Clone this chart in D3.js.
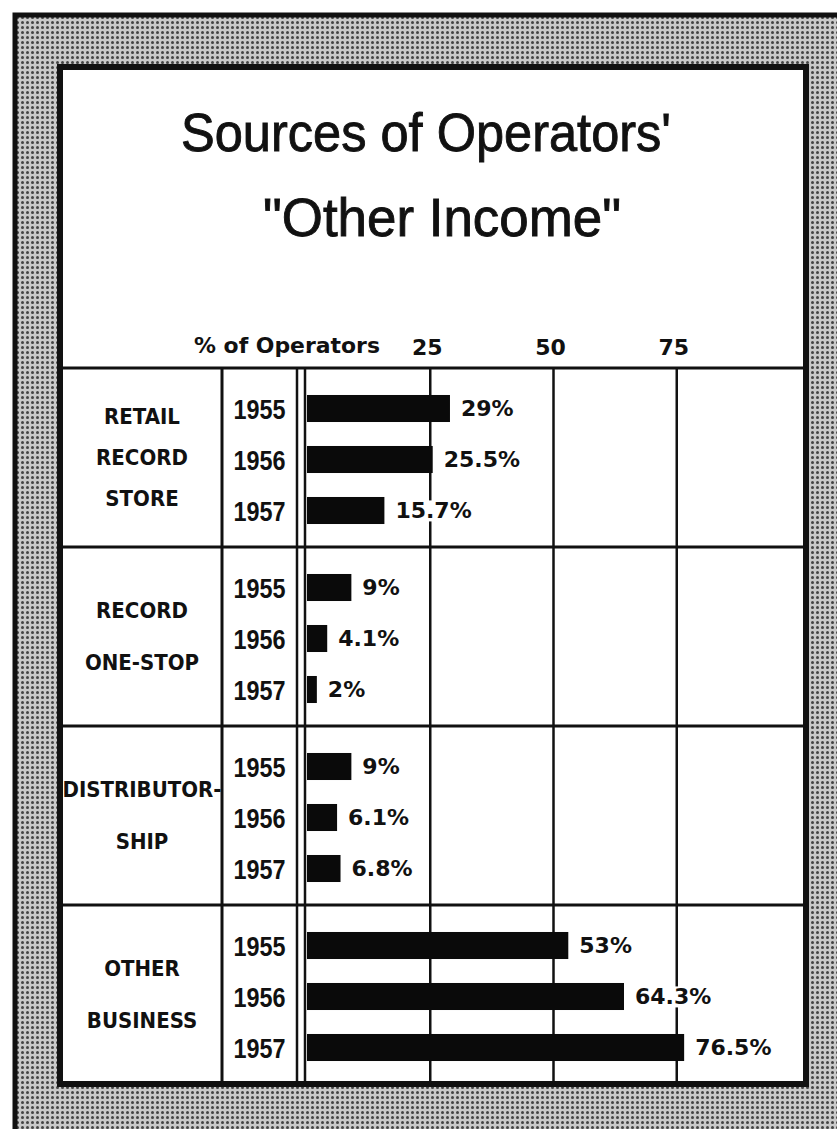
<!DOCTYPE html>
<html>
<head>
<meta charset="utf-8">
<script src="https://cdn.jsdelivr.net/npm/d3@7"></script>
<style>
  body { margin: 0; background: #fff; }
  svg { display: block; }
  .cat { font-family: "DejaVu Sans Condensed", "DejaVu Sans", sans-serif; font-weight: bold; font-size: 22px; }
  .year { font-family: "Liberation Sans Narrow", "Liberation Sans", sans-serif; font-weight: bold; font-size: 28px; }
  .pct { font-family: "DejaVu Sans", sans-serif; font-weight: bold; font-size: 22px; }
  .title { font-family: "Liberation Sans", Arial, sans-serif; font-size: 54px; }
</style>
</head>
<body>
<div id="chart"></div>
<script>
// --- DATOS ---
const categories = ["retail", "onestop", "distributor", "other"];
const categoryLines = [
    ["RETAIL", "RECORD", "STORE"],
    ["RECORD", "ONE-STOP"],
    ["DISTRIBUTOR-", "SHIP"],
    ["OTHER", "BUSINESS"]
];
const years = ["1955", "1956", "1957"];
const retailRecordStore = [29, 25.5, 15.7];
const recordOneStop = [9, 4.1, 2];
const distributorship = [9, 6.1, 6.8];
const otherBusiness = [53, 64.3, 76.5];
const tickValues = [25, 50, 75];
const titleLines = ["Sources of Operators'", "\"Other Income\""];
const axisLabel = "% of Operators";

const seriesValues = [retailRecordStore, recordOneStop, distributorship, otherBusiness];

// --- LIENZO ---
const width = 837, height = 1129;
const box = { left: 60, top: 67, right: 806, bottom: 1084 };
const tableTop = 368;
const catCol = 222;            // borde derecho de la columna de categorias
const yearCol = [297, 305];    // doble linea

const svg = d3.select("#chart").append("svg")
    .attr("width", width)
    .attr("height", height);

// trama de puntos (semitono)
const pat = svg.append("defs").append("pattern")
    .attr("id", "halftone")
    .attr("width", 5).attr("height", 5)
    .attr("patternUnits", "userSpaceOnUse");
pat.append("rect").attr("width", 5).attr("height", 5).attr("fill", "#c9c9c9");
pat.append("circle").attr("cx", 2.5).attr("cy", 2.5).attr("r", 1.5).attr("fill", "#444");

svg.append("rect")
    .attr("x", 15).attr("y", 15)
    .attr("width", width + 20).attr("height", height + 20)
    .attr("fill", "url(#halftone)")
    .attr("stroke", "#111").attr("stroke-width", 5);

svg.append("rect")
    .attr("x", box.left).attr("y", box.top)
    .attr("width", box.right - box.left).attr("height", box.bottom - box.top)
    .attr("fill", "#fff")
    .attr("stroke", "#111").attr("stroke-width", 6);

// --- TITULO ---
svg.selectAll(".title").data(titleLines).enter().append("text")
    .attr("class", "title")
    .attr("x", (d, i) => i === 0 ? 426 : 442)
    .attr("y", (d, i) => i === 0 ? 151 : 236)
    .attr("text-anchor", "middle")
    .attr("textLength", (d, i) => i === 0 ? 490 : 358)
    .attr("lengthAdjust", "spacingAndGlyphs")
    .attr("fill", "#111")
    .attr("stroke", "#111").attr("stroke-width", 0.9)
    .text(d => d);

// --- ESCALAS ---
const x = d3.scaleLinear().domain([0, 100]).range([307, 800]);

const yGroup = d3.scaleBand()
    .domain(categories)
    .range([tableTop, box.bottom]);

const yYear = d3.scaleBand()
    .domain(years)
    .range([15, 168])
    .paddingInner(0.47)
    .paddingOuter(0.235);

// --- CABECERA ---
svg.append("text")
    .attr("class", "cat")
    .attr("x", 194).attr("y", 353)
    .attr("textLength", 186)
    .attr("lengthAdjust", "spacingAndGlyphs")
    .attr("fill", "#111")
    .text(axisLabel);

svg.selectAll(".tick-label").data(tickValues).enter().append("text")
    .attr("class", "pct tick-label")
    .attr("x", d => x(d) - 3)
    .attr("y", 355)
    .attr("text-anchor", "middle")
    .attr("fill", "#111")
    .text(d => d);

// --- LINEAS DE LA TABLA ---
const lines = svg.append("g").attr("stroke", "#111");

lines.selectAll(".grid").data(tickValues).enter().append("line")
    .attr("x1", d => x(d)).attr("x2", d => x(d))
    .attr("y1", tableTop).attr("y2", box.bottom)
    .attr("stroke-width", 2.5);

lines.append("line")
    .attr("x1", catCol).attr("x2", catCol)
    .attr("y1", tableTop).attr("y2", box.bottom)
    .attr("stroke-width", 3);

lines.selectAll(".dbl").data(yearCol).enter().append("line")
    .attr("x1", d => d).attr("x2", d => d)
    .attr("y1", tableTop).attr("y2", box.bottom)
    .attr("stroke-width", 2.5);

lines.selectAll(".sep").data(categories).enter().append("line")
    .attr("x1", box.left).attr("x2", box.right)
    .attr("y1", d => yGroup(d)).attr("y2", d => yGroup(d))
    .attr("stroke-width", 3);

// --- GRUPOS ---
const group = svg.selectAll(".group").data(categories).enter().append("g")
    .attr("class", "group")
    .attr("transform", d => `translate(0,${yGroup(d)})`);

// etiqueta de categoria
group.each(function(d, i) {
    const g = d3.select(this);
    const ls = categoryLines[i];
    const gap = ls.length === 3 ? 41 : 52;
    const mid = yGroup.bandwidth() / 2;
    g.selectAll(".cat").data(ls).enter().append("text")
        .attr("class", "cat")
        .attr("x", (box.left + catCol) / 2 + 1)
        .attr("y", (l, j) => mid + (j - (ls.length - 1) / 2) * gap)
        .attr("dy", "0.36em")
        .attr("text-anchor", "middle")
        .attr("fill", "#111")
        .text(l => l);
});

// filas por anio
group.each(function(d, i) {
    const g = d3.select(this);
    const rows = years.map((yr, j) => ({ year: yr, value: seriesValues[i][j] }));

    g.selectAll(".year").data(rows).enter().append("text")
        .attr("class", "year")
        .attr("x", (catCol + yearCol[0]) / 2)
        .attr("y", r => yYear(r.year) + yYear.bandwidth() / 2)
        .attr("dy", "0.36em")
        .attr("text-anchor", "middle")
        .attr("textLength", 52)
        .attr("lengthAdjust", "spacingAndGlyphs")
        .attr("fill", "#111")
        .text(r => r.year);

    g.selectAll(".bar").data(rows).enter().append("rect")
        .attr("class", "bar")
        .attr("x", x(0))
        .attr("y", r => yYear(r.year))
        .attr("width", r => x(r.value) - x(0))
        .attr("height", yYear.bandwidth())
        .attr("fill", "#0a0a0a");

    // fondo blanco para que la rejilla no cruce los rotulos
    const bg = g.append("g");
    const vals = g.selectAll(".val").data(rows).enter().append("text")
        .attr("class", "pct val")
        .attr("x", r => x(r.value) + 11)
        .attr("y", r => yYear(r.year) + yYear.bandwidth() / 2)
        .attr("dy", "0.36em")
        .attr("fill", "#111")
        .text(r => `${r.value}%`);

    vals.each(function() {
        const b = this.getBBox();
        bg.append("rect")
            .attr("x", b.x - 3).attr("y", b.y + 2)
            .attr("width", b.width + 6).attr("height", b.height - 4)
            .attr("fill", "#fff");
    });
});
</script>
</body>
</html>
